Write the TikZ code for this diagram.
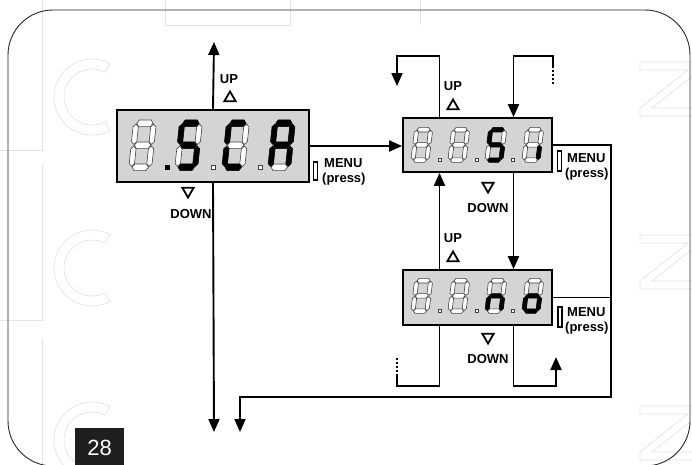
\documentclass[tikz,border=0pt]{standalone}
\usepackage{fontspec}
\usetikzlibrary{arrows.meta,calc,shapes.geometric}
\newfontfamily\lblfont{Liberation Sans}

\tikzset{
  display/.style={draw, line width=1.8pt, fill=black!17, inner sep=0pt},
  wire/.style={line width=1.9pt},
  arr/.style={wire, -{Triangle[length=13pt,width=11pt]}},
  lbl/.style={font={\lblfont\bfseries\fontsize{13}{15}\selectfont}, inner sep=0pt},
  uptri/.style={regular polygon, regular polygon sides=3, draw, line width=1.8pt,
    minimum size=13pt, inner sep=0pt},
  downtri/.style={uptri, shape border rotate=180},
  btn/.style={draw, line width=1.4pt, minimum width=4pt, inner sep=0pt},
  wm/.style={draw=black!11, line width=0.7pt},
  segoff/.style={fill=white, draw=black!75, line width=0.6pt},
  segon/.style={fill=black, draw=black, line width=0.6pt},
  sega/.style=segoff, segb/.style=segoff, segc/.style=segoff, segd/.style=segoff,
  sege/.style=segoff, segf/.style=segoff, segg/.style=segoff,
  lit/.style={seg#1/.style=segon},
}

% seven segment digit: position, xscale, yscale, lit segments
\newcommand\segdigit[4]{%
  \begin{scope}[shift={#1}, xscale=#2, yscale=#3, xslant=0.13, lit/.list={#4}]
    \path[sega] (1.3,-17) -- (2.3,-18.2) -- (7.7,-18.2) -- (8.7,-17) -- (7.7,-15.8) -- (2.3,-15.8) -- cycle;
    \path[segg] (1.3,-9) -- (2.3,-10.2) -- (7.7,-10.2) -- (8.7,-9) -- (7.7,-7.8) -- (2.3,-7.8) -- cycle;
    \path[segd] (1.3,-1) -- (2.3,-2.2) -- (7.7,-2.2) -- (8.7,-1) -- (7.7,0.2) -- (2.3,0.2) -- cycle;
    \path[segf] (1,-9.3) -- (2.2,-10.3) -- (2.2,-15.7) -- (1,-16.7) -- (-0.2,-15.7) -- (-0.2,-10.3) -- cycle;
    \path[sege] (1,-1.3) -- (2.2,-2.3) -- (2.2,-7.7) -- (1,-8.7) -- (-0.2,-7.7) -- (-0.2,-2.3) -- cycle;
    \path[segb] (9,-9.3) -- (10.2,-10.3) -- (10.2,-15.7) -- (9,-16.7) -- (7.8,-15.7) -- (7.8,-10.3) -- cycle;
    \path[segc] (9,-1.3) -- (10.2,-2.3) -- (10.2,-7.7) -- (9,-8.7) -- (7.8,-7.7) -- (7.8,-2.3) -- cycle;
  \end{scope}}

% watermark letters
\newcommand\wmzed[1]{%
  \path[wm, shift={#1}] (0,0) -- (60,0) -- (60,8) -- (12,46) -- (60,46) -- (60,54)
    -- (0,54) -- (0,46) -- (48,8) -- (0,8) -- cycle;}
\newcommand\wmcee[1]{%
  \path[wm, shift={#1}] (62:38) arc[start angle=62, end angle=298, radius=38]
    -- (298:28) arc[start angle=298, end angle=62, radius=28] -- cycle;}

\begin{document}
\begin{tikzpicture}[x=1pt,y=-1pt]
\useasboundingbox (0,0) rectangle (692,464);
% watermark
\wmzed{(640,62)}
\wmzed{(640,235)}
\wmzed{(640,406)}
\wmcee{(92,97)}
\wmcee{(92,268)}
\wmcee{(92,440)}
\path[wm] (42,0) -- (42,150) -- (0,150);
\path[wm] (42,165) -- (42,320) -- (0,320);
\path[wm] (42,338) -- (42,464);
\path[wm] (165,0) -- (165,25) -- (290,25) -- (290,0);
\path[wm] (420,0) -- (420,25);

\draw[line width=0.9pt, black!85, rounded corners=45pt] (8,10) rectangle (690,466);

% displays
\node[display, minimum width=192pt, minimum height=72pt] (scca) at (213,146) {};
\node[display, minimum width=149pt, minimum height=54pt] (si) at (477.5,145) {};
\node[display, minimum width=149pt, minimum height=55pt] (no) at (477.5,297.5) {};

% digits
\segdigit{(129,170)}{2.2}{2.75}{}
\segdigit{(175,170)}{2.2}{2.75}{a,f,g,c,d}
\segdigit{(222,170)}{2.2}{2.75}{a,f,e,d}
\segdigit{(268,170)}{2.2}{2.75}{a,b,c,e,f,g}
\fill (164.5,164.5) rectangle (169.5,169.5);
\draw[segoff] (211,165) rectangle (215,169);
\draw[segoff] (258,165) rectangle (262,169);

\segdigit{(411,162)}{1.75}{1.9}{}
\segdigit{(448,162)}{1.75}{1.9}{}
\segdigit{(485,162)}{1.75}{1.9}{a,f,g,c,d}
\segdigit{(522,162)}{1.75}{1.9}{c}
\draw[segoff] (438.5,158) rectangle (441.5,161);
\draw[segoff] (475.5,158) rectangle (478.5,161);
\draw[segoff] (511.5,158) rectangle (514.5,161);

\segdigit{(411,313)}{1.75}{1.9}{}
\segdigit{(448,313)}{1.75}{1.9}{}
\segdigit{(485,313)}{1.75}{1.9}{e,g,c}
\segdigit{(522,313)}{1.75}{1.9}{e,g,c,d}
\draw[segoff] (438.5,309) rectangle (441.5,312);
\draw[segoff] (475.5,309) rectangle (478.5,312);
\draw[segoff] (511.5,309) rectangle (514.5,312);

% labels
\node[lbl, anchor=base] (upone) at (229,83) {UP};
\node[uptri] (uptrione) at (230,98) {};
\node[downtri] (dntrione) at (188,191) {};
\node[lbl, anchor=base] (downone) at (191,218) {DOWN};
\node[btn, minimum height=18pt] (btnone) at (315.5,171) {};
\node[lbl, anchor=base west] (menuone) at (324,167) {MENU};
\node[lbl, anchor=base west] (pressone) at (322,182) {(press)};

\node[lbl, anchor=base] (uptwo) at (453,90) {UP};
\node[uptri] (uptritwo) at (453,106) {};
\node[downtri] (dntritwo) at (488,186) {};
\node[lbl, anchor=base] (downtwo) at (488,212) {DOWN};
\node[btn, minimum height=20pt] (btntwo) at (559.5,161) {};
\node[lbl, anchor=base west] (menutwo) at (567,162) {MENU};
\node[lbl, anchor=base west] (presstwo) at (565,177) {(press)};

\node[lbl, anchor=base] (upthree) at (453,242) {UP};
\node[uptri] (uptrithree) at (453,258) {};
\node[downtri] (dntrithree) at (488,337) {};
\node[lbl, anchor=base] (downthree) at (488,363) {DOWN};
\node[btn, minimum height=20pt] (btnthree) at (560,317) {};
\node[lbl, anchor=base west] (menuthree) at (567,316) {MENU};
\node[lbl, anchor=base west] (pressthree) at (565,331) {(press)};

% free ends
\coordinate (upend) at (214,42);
\coordinate (downend) at (214,432);
\coordinate (exitend) at (240,432);
\coordinate (railcorner) at (611,397);
\coordinate (leftloop) at (397,86);
\coordinate (rightloop) at (553,84);
\coordinate (lowleft) at (397,358);
\coordinate (lowright) at (556,357);

% connectors
\draw[arr] (scca.north) -- (upend);
\draw[arr] (scca.south) -- (downend);
\draw[arr] (scca.east) -- (scca.east -| si.west);
\draw[arr] ($(si.north)+(-38,0)$) -- ++(0,-61) -| (leftloop);
\draw[wire, dash pattern=on 2pt off 2pt] (rightloop) -- ++(0,-18);
\draw[arr] ($(rightloop)+(0,-18)$) |- ($(si.north)+(36,-61)$) -- ($(si.north)+(36,0)$);
\draw[arr] (si.east) -| (railcorner) -| (exitend);
\draw[wire] (no.east) -- (no.east -| railcorner);
\draw[arr] ($(si.south)+(36,0)$) -- ($(no.north)+(36,0)$);
\draw[arr] ($(no.north)+(-38,0)$) -- ($(si.south)+(-38,0)$);
\draw[wire] ($(no.south)+(-38,0)$) -- ++(0,60) -| ($(lowleft)+(0,18)$);
\draw[wire, dash pattern=on 2pt off 2pt] (lowleft) -- ++(0,18);
\draw[arr] ($(no.south)+(36,0)$) -- ++(0,60) -| (lowright);

% figure number
\node[fill=black!88, text=white, font={\lblfont\fontsize{22}{22}\selectfont},
  minimum width=49pt, minimum height=40pt, anchor=north west] (fignum) at (75,428) {28};
\end{tikzpicture}
\end{document}
